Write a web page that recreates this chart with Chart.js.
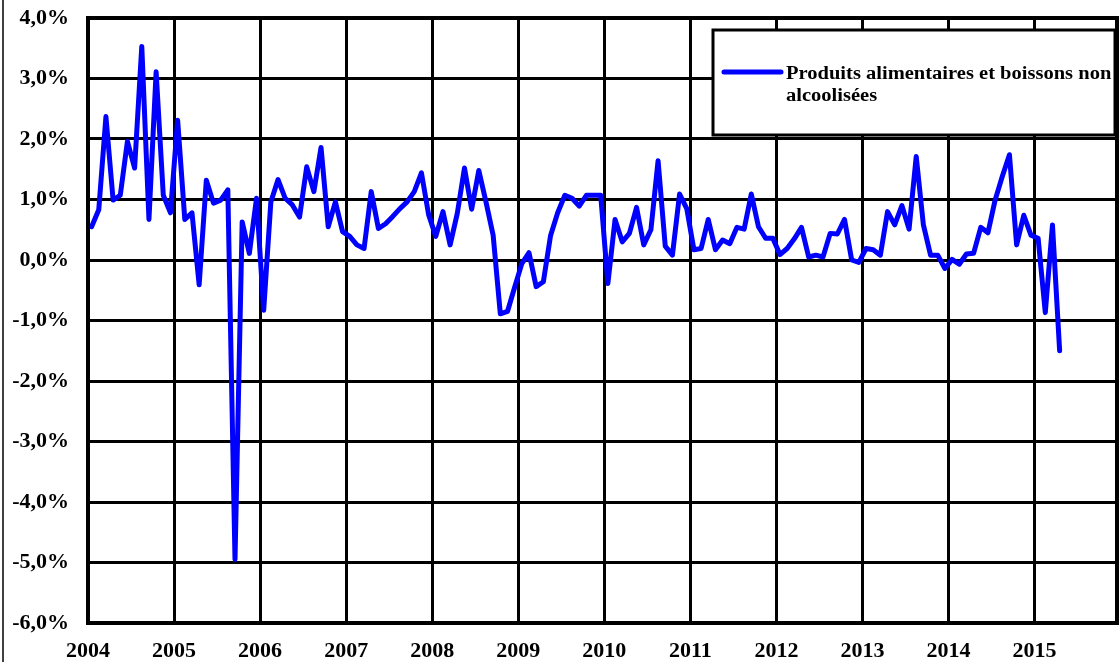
<!DOCTYPE html>
<html>
<head>
<meta charset="utf-8">
<script src="https://cdn.jsdelivr.net/npm/chart.js@4/dist/chart.umd.min.js"></script>
<style>
  body { margin: 0; background: #fff; }
  #wrap { width: 1120px; height: 662px; }
</style>
</head>
<body>
<div id="wrap"><canvas id="myChart" width="1120" height="662"></canvas></div>
<script>
// year tick labels (one tick every 12 months, starting January 2004)
const years = ["2004", "2005", "2006", "2007", "2008", "2009", "2010", "2011", "2012", "2013", "2014", "2015"];

// monthly values, Jan 2004 -> Apr 2015 (%)
const values = [
  0.55, 0.83, 2.37, 0.99, 1.07, 1.96, 1.52, 3.53, 0.67, 3.11, 1.07, 0.78,
  2.31, 0.67, 0.78, -0.41, 1.32, 0.94, 0.99, 1.16, -4.95, 0.63, 0.11, 1.02,
  -0.83, 0.96, 1.33, 1.02, 0.91, 0.71, 1.54, 1.13, 1.86, 0.55, 0.96, 0.47,
  0.39, 0.25, 0.19, 1.13, 0.52, 0.60, 0.72, 0.85, 0.96, 1.13, 1.44, 0.75,
  0.39, 0.80, 0.25, 0.77, 1.52, 0.84, 1.48, 0.96, 0.41, -0.89, -0.85, -0.45,
  -0.06, 0.12, -0.44, -0.36, 0.40, 0.78, 1.07, 1.02, 0.89, 1.07, 1.07, 1.07,
  -0.39, 0.67, 0.30, 0.44, 0.87, 0.25, 0.50, 1.64, 0.23, 0.08, 1.09, 0.85,
  0.17, 0.19, 0.67, 0.17, 0.33, 0.27, 0.54, 0.51, 1.09, 0.55, 0.36, 0.36,
  0.09, 0.19, 0.35, 0.54, 0.05, 0.08, 0.05, 0.44, 0.43, 0.67, 0.00, -0.04,
  0.19, 0.17, 0.08, 0.80, 0.58, 0.90, 0.51, 1.71, 0.58, 0.08, 0.08, -0.14,
  0.01, -0.07, 0.10, 0.11, 0.54, 0.45, 0.99, 1.38, 1.74, 0.25, 0.74, 0.41,
  0.36, -0.87, 0.58, -1.50
];

const seriesLabel = ["Produits alimentaires et boissons non", "alcoolisées"];

// each month sits in the middle of its slot (category axis "between ticks")
const points = values.map((v, i) => ({ x: i + 0.5, y: v }));

// frame, outer left line and the boxed legend
const framePlugin = {
  id: "frame",
  afterDraw(chart) {
    const c = chart.ctx;
    const a = chart.chartArea;
    c.save();
    c.strokeStyle = "#000";
    c.lineWidth = 4;
    c.strokeRect(a.left, a.top, a.right - a.left, a.bottom - a.top);
    c.lineWidth = 1.5;
    c.beginPath();
    c.moveTo(3, 0);
    c.lineTo(3, 662);
    c.stroke();

    // legend box
    c.fillStyle = "#fff";
    c.fillRect(713, 30, 402, 105);
    c.lineWidth = 3;
    c.strokeRect(713, 30, 402, 105);
    c.strokeStyle = "#0000ff";
    c.lineWidth = 5;
    c.lineCap = "round";
    c.beginPath();
    c.moveTo(724, 72);
    c.lineTo(781, 72);
    c.stroke();
    c.fillStyle = "#000";
    c.font = "bold 18px 'Liberation Serif', 'Times New Roman', serif";
    c.textBaseline = "middle";
    // the original text is a bit wider than Liberation Serif
    c.translate(786, 0);
    c.scale(1.14, 1);
    c.fillText(seriesLabel[0], 0, 74);
    c.fillText(seriesLabel[1], 0, 96);
    c.restore();
  },
};

const ctx1 = document.getElementById("myChart").getContext("2d");

const myChart = new Chart(ctx1, {
  type: "line",
  data: {
    datasets: [
      {
        label: seriesLabel.join(" "),
        data: points,
        borderColor: "#0000ff",
        backgroundColor: "#0000ff",
        borderWidth: 5,
        pointRadius: 0,
        tension: 0,
        borderJoinStyle: "round",
        borderCapStyle: "round",
      },
    ],
  },
  options: {
    responsive: false,
    animation: false,
    layout: { padding: { left: 3, right: 3, top: 18, bottom: 0 } },
    plugins: {
      legend: { display: false },
      tooltip: { enabled: false },
    },
    scales: {
      x: {
        type: "linear",
        min: 0,
        max: 143.5,
        afterBuildTicks: (scale) => {
          scale.ticks = years.map((y, i) => ({ value: i * 12 }));
        },
        afterFit: (scale) => {
          scale.height = 39;
          scale.paddingLeft = 0;
          scale.paddingRight = 0;
        },
        ticks: {
          callback: (v) => years[Math.round(v / 12)],
          color: "#000",
          font: { family: "'Liberation Serif', serif", size: 22, weight: "bold" },
          padding: 15,
          maxRotation: 0,
          autoSkip: false,
        },
        grid: { color: "#000", lineWidth: 3, drawTicks: false },
        border: { color: "#000", width: 4 },
      },
      y: {
        min: -6,
        max: 4,
        afterFit: (scale) => {
          scale.width = 85;
          scale.paddingTop = 0;
          scale.paddingBottom = 0;
        },
        ticks: {
          stepSize: 1,
          callback: (v) => v.toFixed(1).replace(".", ",") + "%",
          color: "#000",
          font: { family: "'Liberation Serif', serif", size: 22, weight: "bold" },
          padding: 19,
        },
        grid: { color: "#000", lineWidth: 3, drawTicks: false },
        border: { color: "#000", width: 4 },
      },
    },
  },
  plugins: [framePlugin],
});
</script>
</body>
</html>
